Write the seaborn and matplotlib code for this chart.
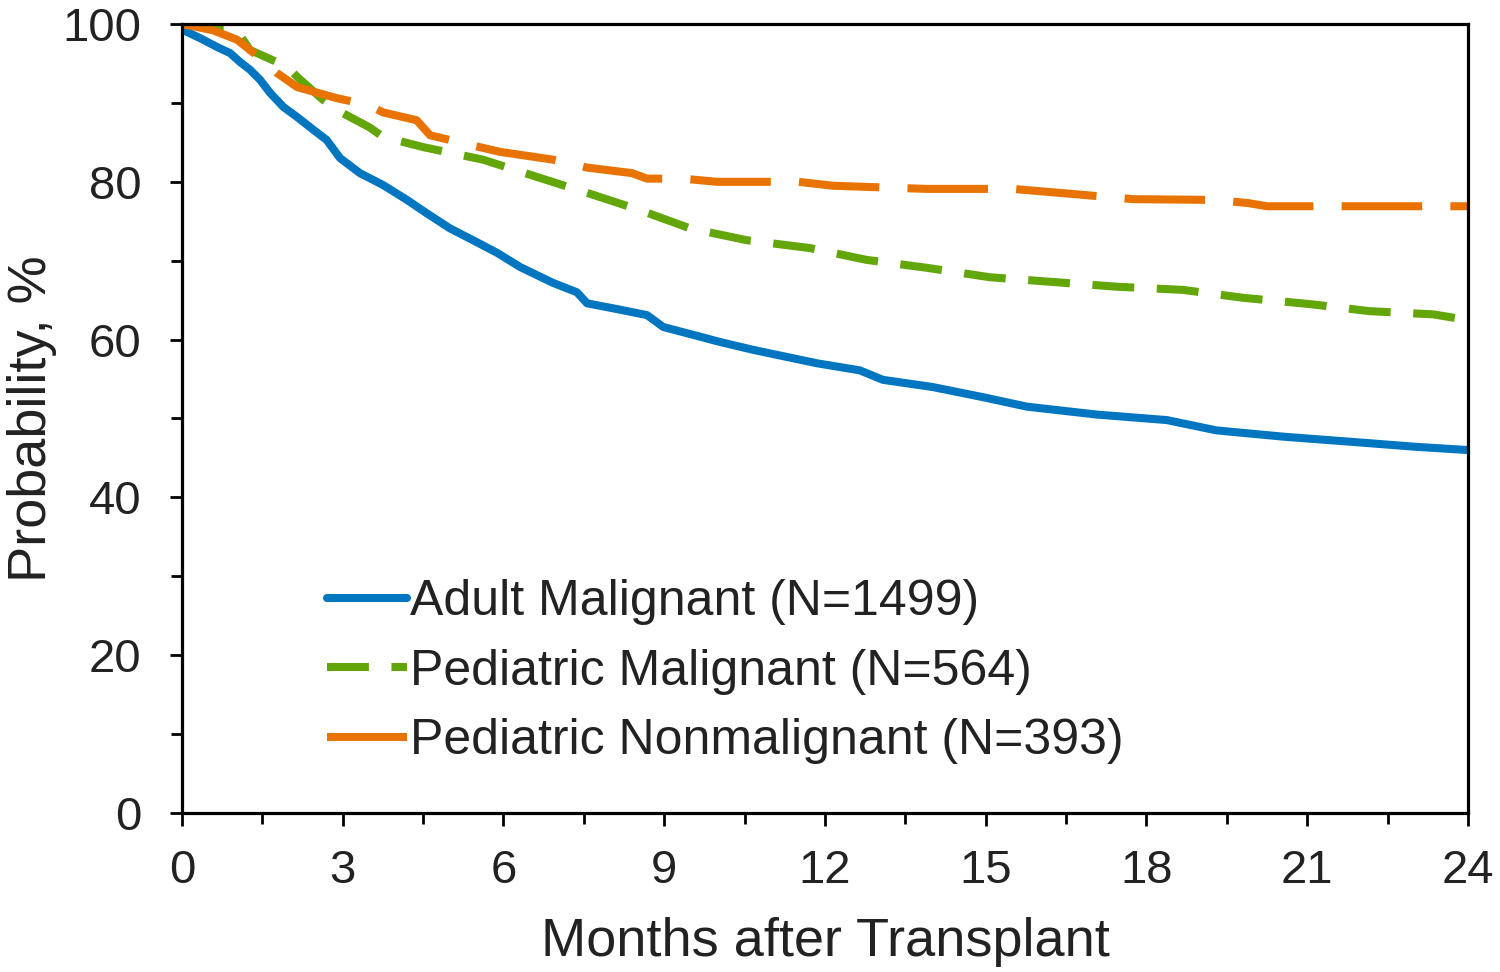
import numpy as np
import pandas as pd
import matplotlib
matplotlib.use("Agg")
import matplotlib.pyplot as plt
import seaborn as sns

# ---- data ----
labels = ["Adult Malignant (N=1499)", "Pediatric Malignant (N=564)", "Pediatric Nonmalignant (N=393)"]

adult_t = [0, 0.09, 0.34, 0.65, 0.9, 1.08, 1.27, 1.46, 1.64, 1.89, 2.15, 2.45, 2.7, 2.95, 3.32,
           3.75, 4.2, 4.57, 5.0, 5.43, 5.88, 6.31, 6.92, 7.37, 7.56, 8.17, 8.68, 8.98, 9.54, 10.04,
           10.66, 11.85, 12.65, 13.08, 14.0, 14.95, 15.77, 17.07, 18.38, 19.3, 20.55, 22.1, 23.05, 24]
adult_p = [100, 99.0, 98.2, 97.1, 96.3, 95.2, 94.2, 92.9, 91.3, 89.5, 88.2, 86.6, 85.3, 83.0, 81.1,
           79.6, 77.7, 76.0, 74.1, 72.6, 71.0, 69.2, 67.2, 66.0, 64.6, 63.8, 63.1, 61.6, 60.6, 59.7,
           58.7, 57.0, 56.1, 54.9, 54.0, 52.7, 51.5, 50.5, 49.8, 48.5, 47.7, 46.9, 46.4, 46.0]

ped_mal_t = [0, 0.9, 1.08, 1.27, 1.96, 2.15, 2.63, 2.89, 3.5, 3.75, 4.5, 5.62, 6.63, 7.56, 8.55, 9.48,
             10.54, 11.72, 12.78, 13.9, 15.08, 16.26, 17.45, 18.68, 19.8, 21.05, 22.17, 23.35, 23.8]
ped_mal_p = [100, 99.6, 98.6, 96.7, 94.6, 93.3, 90.4, 89.1, 86.9, 85.7, 84.4, 82.8, 80.6, 78.6, 76.4, 74.1,
             72.6, 71.6, 70.1, 69.1, 67.9, 67.3, 66.7, 66.3, 65.3, 64.5, 63.6, 63.2, 62.7]

ped_non_t = [0, 0.58, 1.03, 1.51, 1.77, 2.15, 2.89, 3.5, 3.75, 4.38, 4.63, 5.24, 5.93, 6.93, 7.56,
             8.4, 8.68, 9.35, 9.98, 11.5, 12.15, 13.9, 15.5, 16.2, 17.75, 19.3, 19.9, 20.25, 24]
ped_non_p = [100, 99.2, 98.0, 95.4, 93.8, 92.0, 90.6, 89.7, 88.8, 87.8, 85.9, 84.9, 83.8, 82.8, 81.8,
             81.1, 80.4, 80.4, 80.0, 80.0, 79.5, 79.1, 79.1, 78.7, 77.8, 77.7, 77.3, 76.9, 76.9]

x_ticks = [0, 3, 6, 9, 12, 15, 18, 21, 24]
y_ticks = [0, 20, 40, 60, 80, 100]

colors = ["#0076C0", "#62A60A", "#E97300"]

df = pd.concat([
    pd.DataFrame({"t": adult_t, "p": adult_p, "group": labels[0]}),
    pd.DataFrame({"t": ped_mal_t, "p": ped_mal_p, "group": labels[1]}),
    pd.DataFrame({"t": ped_non_t, "p": ped_non_p, "group": labels[2]}),
], ignore_index=True)

sns.set_style("ticks")
plt.rcParams["font.family"] = ["Liberation Sans", "DejaVu Sans"]
text_color = "#222222"

fig = plt.figure(figsize=(15, 9.72), dpi=100)
ax = fig.add_axes([182 / 1500, 1 - 813 / 972, (1468 - 182) / 1500, (813 - 24) / 972])

lw = 5.8
sns.lineplot(data=df, x="t", y="p", hue="group", style="group",
             hue_order=labels, style_order=labels,
             palette=dict(zip(labels, colors)),
             dashes={labels[0]: "", labels[1]: (5.2, 2.8), labels[2]: (10, 3.5)},
             estimator=None, sort=True, linewidth=lw,
             legend=False, ax=ax)

ax.set_xlim(0, 24)
ax.set_ylim(0, 100)
ax.set_xticks(x_ticks)
ax.set_yticks(y_ticks)
ax.set_xticks(np.arange(1.5, 24, 3), minor=True)
ax.set_yticks(np.arange(10, 100, 20), minor=True)
ax.set_xticklabels([str(v) for v in x_ticks])
ax.set_yticklabels([str(v) for v in y_ticks])

for side in ["left", "right", "top", "bottom"]:
    ax.spines[side].set_visible(True)
    ax.spines[side].set_linewidth(2.3)
    ax.spines[side].set_color("black")

ax.tick_params(axis="both", which="major", direction="out", length=9, width=2,
               colors="black", labelsize=34, labelcolor=text_color)
ax.tick_params(axis="both", which="minor", direction="out", length=8, width=2, colors="black")
ax.tick_params(axis="y", which="major", pad=20)
ax.tick_params(axis="x", which="major", pad=17)
ax.tick_params(top=False, right=False, which="both")

ax.set_xlabel("Months after Transplant", fontsize=39, color=text_color, labelpad=17)
ax.set_ylabel("Probability, %", fontsize=39, color=text_color, labelpad=4)

leg = ax.legend(ax.lines[:3], labels, loc="upper left", bbox_to_anchor=(0.113, 0.296),
                frameon=False, fontsize=36, handlelength=1.6, handletextpad=0.05,
                labelspacing=0.47, borderpad=0, borderaxespad=0)
for t in leg.get_texts():
    t.set_color(text_color)

fig.savefig("out.png", dpi=100)
